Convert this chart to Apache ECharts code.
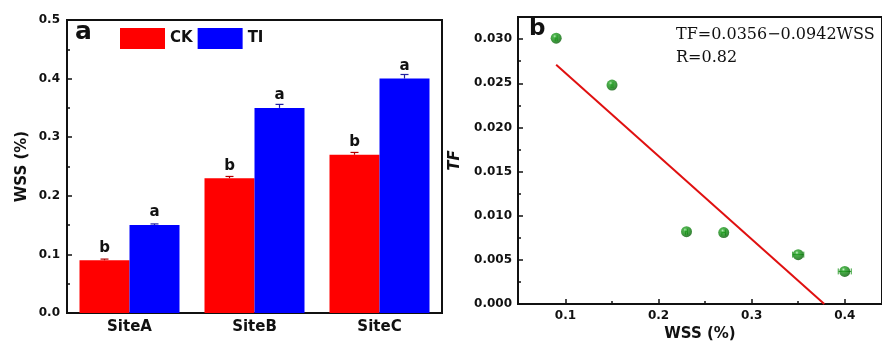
<!DOCTYPE html>
<html><head><meta charset="utf-8">
<script src="https://cdn.jsdelivr.net/npm/echarts@6/dist/echarts.min.js"></script>
<style>html,body{margin:0;padding:0;background:#fff}#c{width:882px;height:347px}</style>
</head><body><div id="c"></div>
<script>
// ---- Panel a data ----
const sites = ['SiteA', 'SiteB', 'SiteC'];
const ckValues = [0.09, 0.23, 0.27];
const tiValues = [0.15, 0.35, 0.40];
const ckErr = [0.002, 0.003, 0.004];
const tiErr = [0.002, 0.006, 0.007];
const ckLetters = ['b', 'b', 'b'];
const tiLetters = ['a', 'a', 'a'];
const yTicksA = [0, 0.1, 0.2, 0.3, 0.4, 0.5];

// ---- Panel b data ----
const wss = [0.09, 0.15, 0.23, 0.27, 0.35, 0.40];
const tf = [0.0301, 0.0248, 0.0082, 0.0081, 0.0056, 0.0037];
const wssErr = [0.001, 0.001, 0.001, 0.002, 0.006, 0.007];
const fitX = [0.09, 0.378];
const fitY = [0.0271, 0.0];
const xTicksB = [0.1, 0.2, 0.3, 0.4];
const xMinorB = [0.15, 0.25, 0.35];
const yTicksB = [0, 0.005, 0.010, 0.015, 0.020, 0.025, 0.030];
const yMinorB = [0.0025, 0.0075, 0.0125, 0.0175, 0.0225, 0.0275];

const FONT = 'DejaVu Sans';
const chart = echarts.init(document.getElementById('c'), null, {renderer: 'canvas'});

function barErr(side, errs, vals, color) {
  return {
    type: 'custom', xAxisIndex: 0, yAxisIndex: 0, z: 5,
    data: vals.map((v, i) => [i, v, errs[i]]),
    renderItem: function (params, api) {
      const i = api.value(0), v = api.value(1), e = api.value(2);
      const band = api.size([1, 0])[0];
      const bw = band * 0.8 / 2;
      const c0 = api.coord([i, v]);
      const c1 = api.coord([i, v + e]);
      const x = c0[0] + side * bw / 2;
      return {
        type: 'group', children: [
          {type: 'line', shape: {x1: x, y1: c0[1], x2: x, y2: c1[1]}, style: {stroke: color, lineWidth: 1.2}},
          {type: 'line', shape: {x1: x - 4, y1: c1[1], x2: x + 4, y2: c1[1]}, style: {stroke: color, lineWidth: 1.2}}
        ]
      };
    }
  };
}

const option = {
  animation: false,
  backgroundColor: '#fff',
  textStyle: {fontFamily: FONT},
  grid: [
    {left: 67, top: 20, width: 375, height: 293, show: true, borderColor: '#111', borderWidth: 2, backgroundColor: 'transparent'},
    {left: 518, top: 17, right: -3, height: 293, show: true, borderColor: '#111', borderWidth: 2, backgroundColor: 'transparent'}
  ],
  legend: {
    left: 120, top: 28, padding: 0, itemWidth: 45, itemHeight: 21, itemGap: 5, icon: 'rect',
    textStyle: {fontFamily: FONT, fontWeight: 'bold', fontSize: 15, color: '#111'},
    data: ['CK', 'TI']
  },
  xAxis: [
    {
      type: 'category', gridIndex: 0, data: sites,
      axisLine: {lineStyle: {color: '#111', width: 2}},
      axisTick: {inside: true, length: 4, lineStyle: {color: '#111', width: 2}},
      axisLabel: {fontFamily: FONT, fontWeight: 'bold', fontSize: 15, color: '#111', margin: 7},
      splitLine: {show: false}
    },
    {
      type: 'value', gridIndex: 1, min: 0.049, max: 0.44,
      name: 'WSS (%)', nameLocation: 'middle', nameGap: 22,
      nameTextStyle: {fontFamily: FONT, fontWeight: 'bold', fontSize: 15, color: '#111'},
      axisLine: {onZero: false, lineStyle: {color: '#111', width: 2}},
      axisTick: {inside: true, length: 5, customValues: xTicksB, lineStyle: {color: '#111', width: 1.5}},
      axisLabel: {customValues: xTicksB, formatter: v => v.toFixed(1), fontFamily: FONT, fontWeight: 'bold', fontSize: 12, color: '#111', margin: 6},
      splitLine: {show: false}
    },
    {
      type: 'value', gridIndex: 1, min: 0.049, max: 0.44, position: 'bottom',
      axisLine: {show: false},
      axisTick: {inside: true, length: 3, customValues: xMinorB, lineStyle: {color: '#111', width: 1.5}},
      axisLabel: {show: false},
      splitLine: {show: false}
    }
  ],
  yAxis: [
    {
      type: 'value', gridIndex: 0, min: 0, max: 0.5, interval: 0.1,
      name: 'WSS (%)', nameLocation: 'middle', nameGap: 37,
      nameTextStyle: {fontFamily: FONT, fontWeight: 'bold', fontSize: 15, color: '#111'},
      axisLine: {show: true, lineStyle: {color: '#111', width: 2}},
      axisTick: {show: true, inside: true, length: 5, lineStyle: {color: '#111', width: 1.5}},
      minorTick: {show: true, splitNumber: 2, length: 3, lineStyle: {color: '#111', width: 1.5}},
      axisLabel: {formatter: v => v.toFixed(1), fontFamily: FONT, fontWeight: 'bold', fontSize: 12, color: '#111', margin: 7},
      splitLine: {show: false}, minorSplitLine: {show: false}
    },
    {
      type: 'value', gridIndex: 1, min: 0, max: 0.0325,
      name: 'TF', nameLocation: 'middle', nameGap: 55,
      nameTextStyle: {fontFamily: FONT, fontWeight: 'bold', fontStyle: 'italic', fontSize: 15, color: '#111'},
      axisLine: {show: true, onZero: false, lineStyle: {color: '#111', width: 2}},
      axisTick: {show: true, inside: true, length: 5, customValues: yTicksB, lineStyle: {color: '#111', width: 1.5}},
      axisLabel: {customValues: yTicksB, formatter: v => v.toFixed(3), fontFamily: FONT, fontWeight: 'bold', fontSize: 12, color: '#111', margin: 6},
      splitLine: {show: false}
    },
    {
      type: 'value', gridIndex: 1, min: 0, max: 0.0325, position: 'left',
      axisLine: {show: false},
      axisTick: {show: true, inside: true, length: 3, customValues: yMinorB, lineStyle: {color: '#111', width: 1.5}},
      axisLabel: {show: false},
      splitLine: {show: false}
    }
  ],
  graphic: [
    {type: 'text', left: 75, top: 20, style: {text: 'a', font: 'bold 25px "DejaVu Sans"', fill: '#111'}},
    {type: 'text', left: 529, top: 18, style: {text: 'b', font: 'bold 23px "DejaVu Sans"', fill: '#111'}},
    {type: 'text', left: 676, top: 23, style: {text: 'TF=0.0356\u22120.0942WSS\nR=0.82', font: '16px "DejaVu Serif"', lineHeight: 23, fill: '#111'}}
  ],
  series: [
    {
      name: 'CK', type: 'bar', xAxisIndex: 0, yAxisIndex: 0, data: ckValues,
      barGap: '0%', barCategoryGap: '20%', itemStyle: {color: '#ff0000'},
      label: {show: true, position: 'top', distance: 5, formatter: p => ckLetters[p.dataIndex], fontFamily: FONT, fontWeight: 'bold', fontSize: 15, color: '#111'}
    },
    {
      name: 'TI', type: 'bar', xAxisIndex: 0, yAxisIndex: 0, data: tiValues,
      barGap: '0%', barCategoryGap: '20%', itemStyle: {color: '#0000ff'},
      label: {show: true, position: 'top', distance: 5, formatter: p => tiLetters[p.dataIndex], fontFamily: FONT, fontWeight: 'bold', fontSize: 15, color: '#111'}
    },
    barErr(-1, ckErr, ckValues, '#b00000'),
    barErr(1, tiErr, tiValues, '#2020a0'),
    {
      type: 'custom', xAxisIndex: 1, yAxisIndex: 1, z: 3,
      data: wss.map((v, i) => [v, tf[i], wssErr[i]]),
      renderItem: function (params, api) {
        const x = api.value(0), y = api.value(1), e = api.value(2);
        const a = api.coord([x - e, y]), b = api.coord([x + e, y]);
        const col = '#3aa33a';
        return {type: 'group', children: [
          {type: 'line', shape: {x1: a[0], y1: a[1], x2: b[0], y2: b[1]}, style: {stroke: col, lineWidth: 1}},
          {type: 'line', shape: {x1: a[0], y1: a[1] - 3, x2: a[0], y2: a[1] + 3}, style: {stroke: col, lineWidth: 1}},
          {type: 'line', shape: {x1: b[0], y1: b[1] - 3, x2: b[0], y2: b[1] + 3}, style: {stroke: col, lineWidth: 1}}
        ]};
      }
    },
    {
      type: 'line', xAxisIndex: 1, yAxisIndex: 1, z: 4,
      data: fitX.map((v, i) => [v, fitY[i]]),
      showSymbol: false, symbol: 'none',
      lineStyle: {color: '#e01010', width: 2}
    },
    {
      type: 'scatter', xAxisIndex: 1, yAxisIndex: 1, z: 5,
      data: wss.map((v, i) => [v, tf[i]]),
      symbol: 'circle', symbolSize: 11,
      itemStyle: {
        color: new echarts.graphic.RadialGradient(0.38, 0.32, 0.7, [
          {offset: 0, color: '#b8f0b8'},
          {offset: 0.22, color: '#22a022'},
          {offset: 0.7, color: '#0d7d0d'},
          {offset: 1, color: '#075a07'}
        ])
      }
    }
  ]
};
chart.setOption(option);
</script></body></html>
